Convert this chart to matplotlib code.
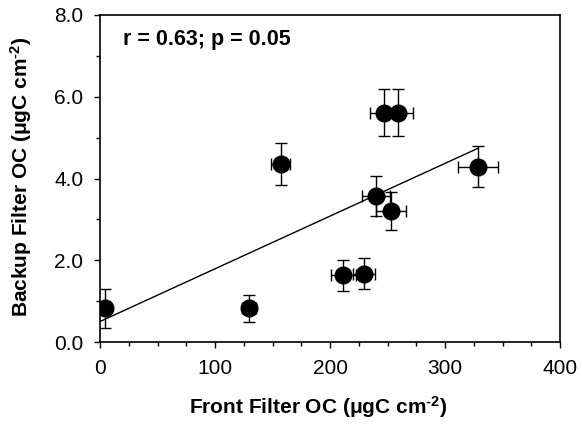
import numpy as np
import matplotlib
matplotlib.use("Agg")
import matplotlib.pyplot as plt
from matplotlib.ticker import MultipleLocator, FormatStrFormatter

plt.rcParams['font.family'] = ['Liberation Sans', 'DejaVu Sans']
plt.rcParams['mathtext.fontset'] = 'custom'
plt.rcParams['mathtext.rm'] = 'Liberation Sans:bold'
plt.rcParams['mathtext.it'] = 'Liberation Sans:bold'
plt.rcParams['mathtext.bf'] = 'Liberation Sans:bold'

front_oc = [4.3, 129.9, 157.0, 211.6, 229.6, 239.7, 247.0, 259.4, 253.0, 329.0]
backup_oc = [0.82, 0.82, 4.35, 1.63, 1.67, 3.57, 5.61, 5.61, 3.21, 4.29]
front_err = [0.0, 6.0, 8.5, 10.7, 9.6, 12.3, 12.6, 13.0, 13.3, 17.4]
backup_err = [0.47, 0.33, 0.52, 0.38, 0.38, 0.48, 0.58, 0.58, 0.46, 0.51]
annotation = "r = 0.63; p = 0.05"
xlabel = r'Front Filter OC (μgC cm$^{\text{-2}}$)'
ylabel = r'Backup Filter OC (μgC cm$^{\text{-2}}$)'

x = np.array(front_oc)
y = np.array(backup_oc)

fig = plt.figure(figsize=(5.82, 4.26), dpi=100)
ax = fig.add_axes([100/582, 1-342/426, 460/582, 327/426])

slope, intercept = np.polyfit(x, y, 1)
xl = np.array([0, x.max()])
ax.plot(xl, slope*xl + intercept, color='black', lw=1.0, zorder=2)

ax.errorbar(x, y, xerr=front_err, yerr=backup_err, fmt='o', color='black',
            ms=12, ecolor='black', elinewidth=1.0, capsize=4, capthick=1.0, zorder=3)

ax.set_xlim(0, 400)
ax.set_ylim(0, 8)
ax.xaxis.set_major_locator(MultipleLocator(100))
ax.xaxis.set_minor_locator(MultipleLocator(25))
ax.yaxis.set_major_locator(MultipleLocator(2))
ax.yaxis.set_minor_locator(MultipleLocator(1))
ax.yaxis.set_major_formatter(FormatStrFormatter('%.1f'))
ax.tick_params(which='both', direction='out', top=False, right=False, labelsize=15, width=1.0)
ax.tick_params(which='major', length=4, pad=8)
ax.tick_params(which='minor', length=3)
for s in ax.spines.values():
    s.set_linewidth(1.2)

ax.set_xlabel(xlabel, fontsize=15, fontweight='bold')
ax.set_ylabel(ylabel, fontsize=15, fontweight='bold')
ax.xaxis.set_label_coords(0.474, -0.2)
ax.yaxis.set_label_coords(-0.171, 0.505)
ax.xaxis.label.set_va('center')
ax.yaxis.label.set_va('center')
ax.text(0.05, 0.925, annotation, transform=ax.transAxes, fontsize=15.5, fontweight='bold',
        ha='left', va='center')

fig.savefig('out.png', dpi=100)
